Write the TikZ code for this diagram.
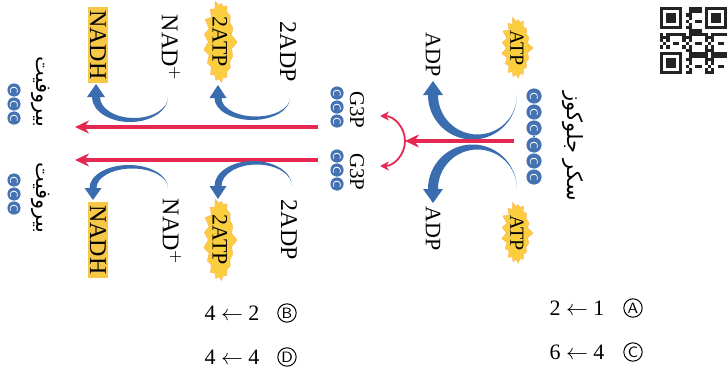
\documentclass[tikz,border=0pt]{standalone}
\usepackage{fontspec}
\setmainfont{Liberation Serif}
\newfontfamily\arabicfont[Script=Arabic]{DejaVu Sans}
\TeXXeTstate=1
\usetikzlibrary{arrows.meta,shapes.symbols}

\definecolor{cblue}{RGB}{68,114,178}
\definecolor{curlblue}{RGB}{58,108,176}
\definecolor{redc}{RGB}{228,40,80}
\definecolor{staryellow}{RGB}{250,206,62}
\definecolor{boxyellow}{RGB}{247,200,72}
\definecolor{qrdark}{RGB}{35,35,35}

\tikzset{
  lbl/.style={rotate=-90, inner sep=0pt, font=\fontsize{12}{14}\selectfont},
  g3plbl/.style={rotate=-90, inner sep=0pt, font=\fontsize{10.5}{12}\selectfont},
  carbon/.style={circle, fill=cblue, minimum size=7.6pt, inner sep=0pt, rotate=-90,
    text=white, font=\sffamily\fontsize{5.5}{6}\selectfont},
  smallcarbon/.style={carbon, minimum size=6.6pt},
  bond/.style={cblue, line width=0.8pt},
  atpstar/.style={starburst, starburst points=17, starburst point height=3pt,
    random starburst=7, fill=staryellow, draw=orange!60, line width=0.2pt,
    rotate=-90, inner sep=0.5pt, font=\fontsize{10}{12}\selectfont},
  nadhbox/.style={fill=boxyellow, rotate=-90, inner xsep=1.5pt, inner ysep=1pt,
    font=\fontsize{12}{14}\selectfont},
  curl/.style={fill=curlblue},
  redarr/.style={draw=redc, line width=1.6pt, -{Stealth[length=7pt,width=6.5pt]}},
  splitarr/.style={draw=redc, line width=0.9pt, -{Stealth[length=4.5pt,width=4.5pt]}},
  pyr/.style={rotate=-90, inner sep=0pt, font=\arabicfont\fontsize{10.5}{13}\selectfont},
  choice/.style={inner sep=0pt, font=\fontsize{11}{13}\selectfont},
  letter/.style={circle, draw, line width=0.5pt, inner sep=0pt, minimum size=9.2pt,
    font=\sffamily\fontsize{7.5}{8}\selectfont}
}

\begin{document}
\begin{tikzpicture}[x=0.5pt,y=0.5pt]
  \useasboundingbox (0,0) rectangle (728,-375);

  % QR code in the corner
  \foreach \i in {0,...,20}{
    \foreach \j in {0,...,20}{
      \pgfmathtruncatemacro\qrskip{(\i<8 && \j<8) || (\i>12 && \j<8) || (\i<8 && \j>12) ? 1 : 0}
      \pgfmathtruncatemacro\qrbit{mod(\i*\i*3+\j*\j*5+\i*\j*7+\i+2*\j,7)<4 ? 1 : 0}
      \ifnum\qrskip=0 \ifnum\qrbit=1
        \fill[qrdark] ({660+\i*3.2},{-7-\j*3.2}) rectangle ++(3.2,-3.2);
      \fi\fi
    }
  }
  \foreach \ox/\oy in {0/0,14/0,0/14}{
    \fill[qrdark] ({660+\ox*3.2},{-7-\oy*3.2}) rectangle ++(22.4,-22.4);
    \fill[white] ({663.2+\ox*3.2},{-10.2-\oy*3.2}) rectangle ++(16,-16);
    \fill[qrdark] ({666.4+\ox*3.2},{-13.4-\oy*3.2}) rectangle ++(9.6,-9.6);
  }

  % glucose
  \foreach \n/\y in {1/96,2/112,3/128,4/145,5/161,6/177}
    \node[carbon] (glu\n) at (534,-\y) {C};
  \foreach \a/\b in {1/2,2/3,3/4,4/5,5/6}
    \draw[bond] (glu\a) -- (glu\b);
  \node[pyr] (glucose) at (573,-146) {\beginR سكر جلوكوز\endR};

  \node[atpstar] (atpA) at (517,-48) {ATP};
  \node[atpstar] (atpB) at (517,-233) {ATP};
  \node[lbl, font=\fontsize{11}{13}\selectfont] (adpA) at (433,-55) {ADP};
  \node[lbl, font=\fontsize{11}{13}\selectfont] (adpB) at (433,-229) {ADP};

  % ATP -> ADP curls
  \fill[curl] (517,-95) arc[start angle=0,end angle=-180,radius=44.5] -- ++(-5,0)
    -- ++(10,14) -- ++(10,-14) -- ++(-5,0) arc[start angle=-180,end angle=0,radius=39.5] -- cycle;
  \fill[curl] (517,-189) arc[start angle=0,end angle=180,radius=44.5] -- ++(-5,0)
    -- ++(10,-14) -- ++(10,14) -- ++(-5,0) arc[start angle=180,end angle=0,radius=39.5] -- cycle;

  % split into two G3P
  \coordinate (gluout) at (514,-141);
  \coordinate (split) at (405,-141);
  \draw[redarr] (gluout) -- (split);
  \draw[splitarr] (split) arc[start angle=0,end angle=90,radius=25];
  \draw[splitarr] (split) arc[start angle=0,end angle=-90,radius=25];

  \foreach \n/\y in {1/93,2/107,3/121}
    \node[smallcarbon] (g3pA\n) at (337,-\y) {C};
  \foreach \n/\y in {1/156,2/170,3/184}
    \node[smallcarbon] (g3pB\n) at (337,-\y) {C};
  \foreach \a/\b in {1/2,2/3}{
    \draw[bond] (g3pA\a) -- (g3pA\b);
    \draw[bond] (g3pB\a) -- (g3pB\b);
  }
  \node[g3plbl] (g3pA) at (357,-110) {G3P};
  \node[g3plbl] (g3pB) at (357,-172) {G3P};

  % G3P -> pyruvate
  \coordinate (g3pAout) at (318,-127);
  \coordinate (g3pBout) at (318,-160);
  \coordinate (pyrAin) at (75,-127);
  \coordinate (pyrBin) at (75,-160);
  \draw[redarr] (g3pAout) -- (pyrAin);
  \draw[redarr] (g3pBout) -- (pyrBin);

  \node[lbl] (adp2A) at (288,-52) {2ADP};
  \node[lbl] (adp2B) at (289,-230) {2ADP};
  \node[atpstar, font=\fontsize{11}{13}\selectfont] (atp2A) at (220,-42) {2ATP};
  \node[atpstar, font=\fontsize{11}{13}\selectfont] (atp2B) at (220,-240) {2ATP};
  \node[lbl] (nadA) at (171,-48) {NAD$^{+}$};
  \node[lbl] (nadB) at (172,-232) {NAD$^{+}$};
  \node[nadhbox] (nadhA) at (98,-45) {NADH};
  \node[nadhbox] (nadhB) at (98,-240) {NADH};

  % 2ADP -> 2ATP and NAD+ -> NADH curls
  \fill[curl] (290,-98) arc[start angle=0,end angle=-180,x radius=37.75,y radius=22] -- ++(-5,0)
    -- ++(8.5,13) -- ++(8.5,-13) -- ++(-5,0) arc[start angle=-180,end angle=0,x radius=34.25,y radius=18.5] -- cycle;
  \fill[curl] (292,-186) arc[start angle=0,end angle=180,x radius=38.75,y radius=25] -- ++(-5,0)
    -- ++(8.5,-13) -- ++(8.5,13) -- ++(-5,0) arc[start angle=180,end angle=0,x radius=35.25,y radius=21.5] -- cycle;
  \fill[curl] (168,-97) arc[start angle=0,end angle=-180,x radius=38,y radius=25] -- ++(-5,0)
    -- ++(9,13) -- ++(9,-13) -- ++(-5,0) arc[start angle=-180,end angle=0,x radius=34,y radius=21] -- cycle;
  \fill[curl] (168,-188) arc[start angle=0,end angle=180,x radius=39.25,y radius=23] -- ++(-5,0)
    -- ++(8.5,-12) -- ++(8.5,12) -- ++(-5,0) arc[start angle=180,end angle=0,x radius=35.75,y radius=19.5] -- cycle;

  % pyruvate
  \foreach \n/\y in {1/90,2/104,3/118}
    \node[smallcarbon] (pyrA\n) at (14,-\y) {C};
  \foreach \n/\y in {1/180,2/194,3/208}
    \node[smallcarbon] (pyrB\n) at (14,-\y) {C};
  \foreach \a/\b in {1/2,2/3}{
    \draw[bond] (pyrA\a) -- (pyrA\b);
    \draw[bond] (pyrB\a) -- (pyrB\b);
  }
  \node[pyr] (pyrA) at (41,-92) {\beginR بيروفيت\endR};
  \node[pyr] (pyrB) at (41,-198) {\beginR بيروفيت\endR};

  % answer choices
  \node[choice] (ansA) at (577,-308) {2 $\leftarrow$ 1};
  \node[letter] (optA) at (633,-308) {A};
  \node[choice] (ansC) at (577,-352) {6 $\leftarrow$ 4};
  \node[letter] (optC) at (633,-352) {C};
  \node[choice] (ansB) at (232,-313) {4 $\leftarrow$ 2};
  \node[letter] (optB) at (287,-313) {B};
  \node[choice] (ansD) at (232,-357) {4 $\leftarrow$ 4};
  \node[letter] (optD) at (287,-357) {D};
\end{tikzpicture}
\end{document}
